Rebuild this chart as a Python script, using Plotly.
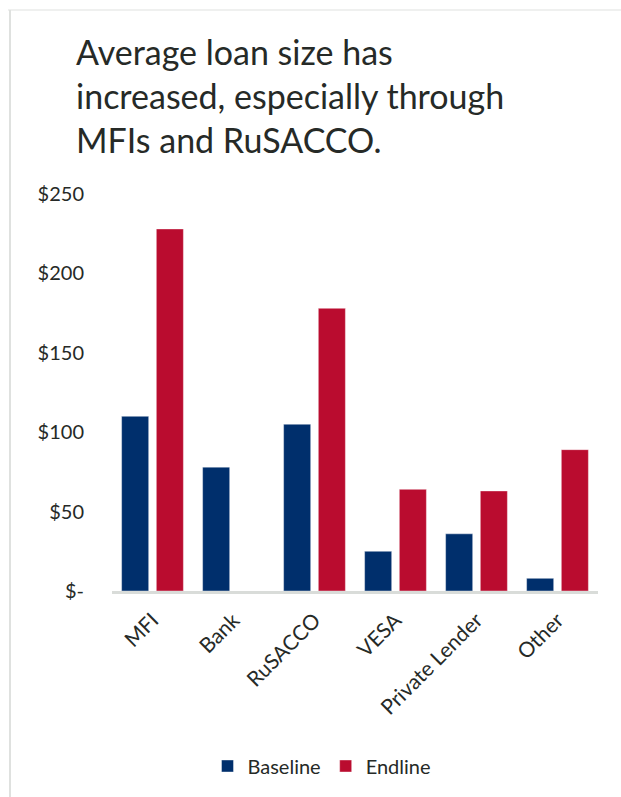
import plotly.graph_objects as go

# Average loan size by lender type (USD)
categories = ["MFI", "Bank", "RuSACCO", "VESA", "Private Lender", "Other"]
baseline = [110, 78, 105, 25, 36, 8]
endline = [228, None, 178, 64, 63, 89]

y_tickvals = [0, 50, 100, 150, 200, 250]
y_ticktext = ["$-", "$50", "$100", "$150", "$200", "$250"]

W, H = 621, 797
ML, MR, MT, MB = 112, 23, 194, 206
FONT = "Lato, 'Gill Sans', sans-serif"
TEXT = "#262a27"
BLUE = "#002F6C"
RED = "#BA0C2F"

fig = go.Figure()
fig.add_trace(go.Bar(name="Baseline", x=categories, y=baseline,
                     marker=dict(color=BLUE, line=dict(color="rgba(255,255,255,0.5)", width=0.8))))
fig.add_trace(go.Bar(name="Endline", x=categories, y=endline,
                     marker=dict(color=RED, line=dict(color="rgba(255,255,255,0.5)", width=0.8))))

pw, ph = W - ML - MR, H - MT - MB


def px_x(p):
    return (p - ML) / pw


def px_y(p):
    return (H - MB - p) / ph


# thin frame along the top and left edges
frame = "#dfe1df"
fig.add_shape(type="line", xref="paper", yref="paper",
              x0=px_x(8), x1=px_x(W + 5), y0=px_y(10), y1=px_y(10),
              line=dict(color=frame, width=1.2))
fig.add_shape(type="line", xref="paper", yref="paper",
              x0=px_x(10), x1=px_x(10), y0=px_y(10), y1=px_y(H + 5),
              line=dict(color=frame, width=2))

fig.update_layout(
    width=W, height=H,
    margin=dict(l=ML, r=MR, t=MT, b=MB, autoexpand=False),
    paper_bgcolor="white", plot_bgcolor="white",
    barmode="group", bargap=0.143, bargroupgap=0.22,
    font=dict(family=FONT, color=TEXT),
    title=dict(
        text="Average loan size has<br>increased, especially through<br>MFIs and RuSACCO.",
        x=76 / W, xanchor="left", xref="container",
        y=1 - 65 / H, yanchor="top", yref="container",
        font=dict(family=FONT, size=34, color=TEXT),
    ),
    showlegend=True,
    legend=dict(orientation="h", x=px_x(322), xanchor="center",
                y=px_y(766), yanchor="middle",
                font=dict(family=FONT, size=20, color=TEXT),
                itemwidth=30, traceorder="normal"),
    xaxis=dict(showline=True, linecolor="#d9dcd9", linewidth=2.5,
               showgrid=False, ticks="", tickangle=-45,
               tickfont=dict(family=FONT, size=21, color=TEXT),
               ticklabelstandoff=6, range=[-0.5, 5.5]),
    yaxis=dict(range=[0, 250], tickvals=y_tickvals, ticktext=y_ticktext,
               showgrid=False, zeroline=False, showline=False, ticks="",
               tickfont=dict(family=FONT, size=20, color=TEXT),
               ticklabelstandoff=27),
)

fig.write_html("out.html")
